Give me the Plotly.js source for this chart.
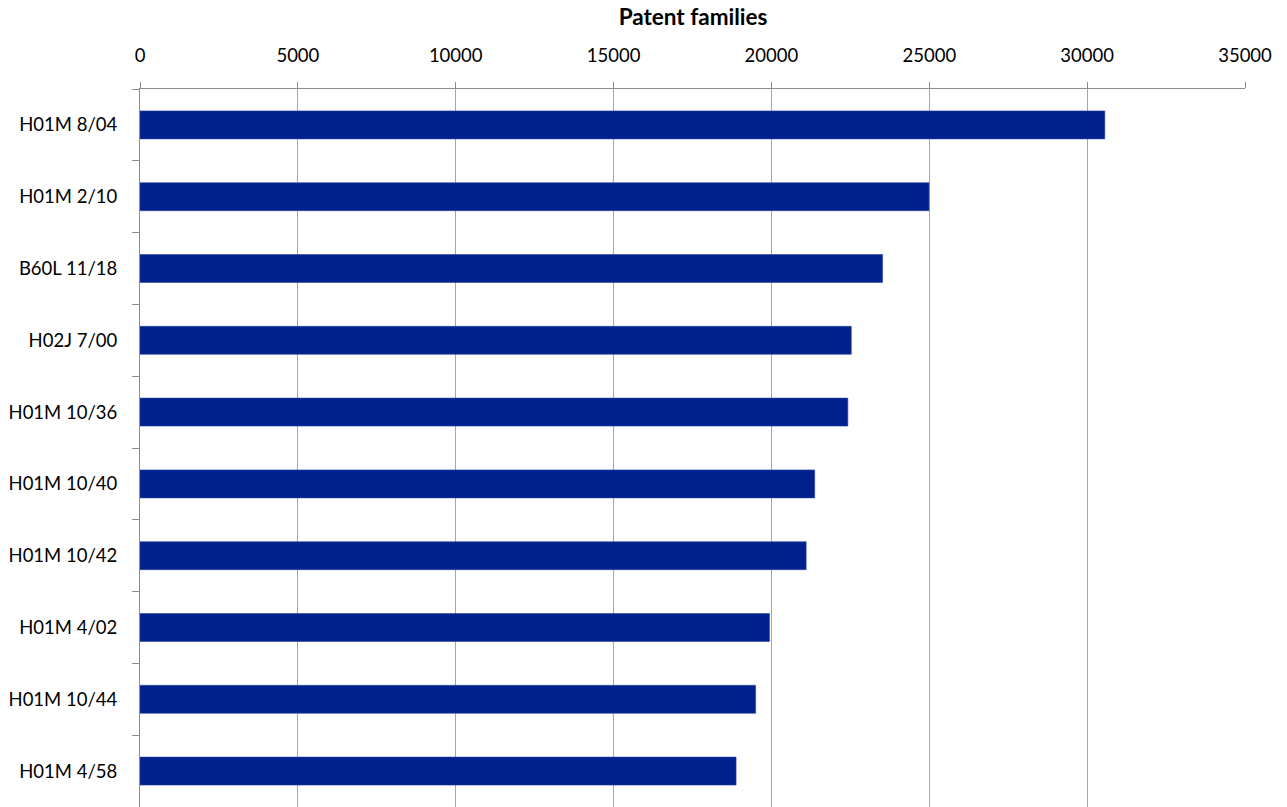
<!DOCTYPE html>
<html>
<head>
<meta charset="utf-8">
<script src="https://cdn.plot.ly/plotly-3.0.1.min.js"></script>
<style>html,body{margin:0;padding:0;background:#fff;overflow:hidden}#chart{width:1287px;height:807px}</style>
</head>
<body>
<div id="chart"></div>
<script>
const categories = ["H01M 8/04","H01M 2/10","B60L 11/18","H02J 7/00","H01M 10/36","H01M 10/40","H01M 10/42","H01M 4/02","H01M 10/44","H01M 4/58"];
const patentFamilies = [30560, 24990, 23520, 22530, 22420, 21370, 21100, 19940, 19500, 18880];
const xTickValues = [0,5000,10000,15000,20000,25000,30000,35000];

const trace = {
  type: 'bar',
  orientation: 'h',
  y: categories,
  x: patentFamilies,
  marker: {color: '#00208D', line: {color: '#2E47A3', width: 0.6}},
  width: 0.39,
  hoverinfo: 'x+y'
};

const layout = {
  width: 1287, height: 807,
  margin: {l: 139.5, r: 41.5, t: 89, b: 0, pad: 0},
  paper_bgcolor: '#fff', plot_bgcolor: '#fff',
  font: {family: 'Lato, "Open Sans", sans-serif', size: 18.5, color: '#000'},
  showlegend: false,
  title: {text: '<b>Patent families</b>', x: 0.5385, xanchor: 'center', y: 0.979, yanchor: 'middle', font: {size: 22.5, family: 'Lato, "Open Sans", sans-serif', color: '#000'}},
  xaxis: {
    side: 'top', range: [0, 35000], tickvals: xTickValues, ticktext: xTickValues.map(String),
    showgrid: true, gridcolor: '#a6a6a6', gridwidth: 1,
    showline: true, linecolor: '#8c8c8c', linewidth: 1,
    ticks: 'outside', ticklen: 6, tickcolor: '#8c8c8c',
    ticklabelstandoff: 13,
    zeroline: false, fixedrange: true
  },
  yaxis: {
    autorange: 'reversed', type: 'category',
    showline: true, linecolor: '#8c8c8c', linewidth: 1,
    ticks: 'outside', tickson: 'boundaries', ticklen: 7, tickcolor: '#8c8c8c',
    ticklabelstandoff: 18,
    showgrid: false, zeroline: false, fixedrange: true
  }
};

Plotly.newPlot('chart', [trace], layout, {displayModeBar: false, staticPlot: true});
</script>
</body>
</html>
